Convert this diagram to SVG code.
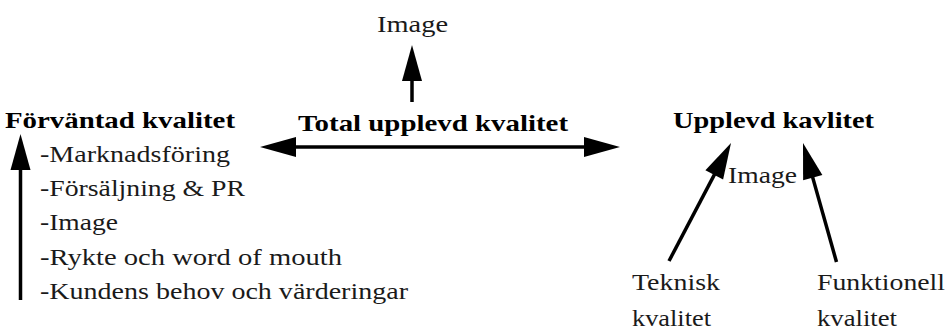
<svg xmlns="http://www.w3.org/2000/svg" width="948" height="332" viewBox="0 0 948 332">
  <style>
    .t { font-family: "Liberation Serif", "Times New Roman", serif; font-size: 24px; fill: #1a1a1a; }
    .b { font-weight: bold; fill: #000; }
    .c { stroke: #000; stroke-width: 3.5; fill: none; }
  </style>
  <defs>
    <marker id="ah" markerUnits="userSpaceOnUse" markerWidth="36" markerHeight="20" refX="26" refY="10" orient="auto-start-reverse" overflow="visible">
      <path d="M0,0 L36,10 L0,20 Z" fill="#000"/>
    </marker>
  </defs>
  <rect width="948" height="332" fill="#fff"/>

  <g id="connectors">
    <line class="c" x1="20.5" y1="300" x2="20.5" y2="144" marker-end="url(#ah)"/>
    <line class="c" x1="412" y1="102" x2="412" y2="55" marker-end="url(#ah)"/>
    <line class="c" x1="270" y1="147" x2="610" y2="147" marker-start="url(#ah)" marker-end="url(#ah)"/>
    <line class="c" x1="669" y1="261" x2="726.35" y2="151.85" marker-end="url(#ah)"/>
    <line class="c" x1="836.5" y1="262" x2="805.7" y2="152.6" marker-end="url(#ah)"/>
  </g>

  <g id="image-top">
    <text class="t" x="377" y="32" textLength="71" lengthAdjust="spacingAndGlyphs">Image</text>
  </g>

  <g id="forvantad">
    <text class="t b" x="5" y="128" textLength="230" lengthAdjust="spacingAndGlyphs">Förväntad kvalitet</text>
    <text class="t" x="40" y="162" textLength="190" lengthAdjust="spacingAndGlyphs">-Marknadsföring</text>
    <text class="t" x="40" y="196" textLength="205" lengthAdjust="spacingAndGlyphs">-Försäljning &amp; PR</text>
    <text class="t" x="40" y="230" textLength="78" lengthAdjust="spacingAndGlyphs">-Image</text>
    <text class="t" x="40" y="265" textLength="302" lengthAdjust="spacingAndGlyphs">-Rykte och word of mouth</text>
    <text class="t" x="40" y="299" textLength="368" lengthAdjust="spacingAndGlyphs">-Kundens behov och värderingar</text>
  </g>

  <g id="total">
    <text class="t b" x="298" y="131" textLength="270" lengthAdjust="spacingAndGlyphs">Total upplevd kvalitet</text>
  </g>

  <g id="upplevd">
    <text class="t b" x="673" y="128" textLength="201" lengthAdjust="spacingAndGlyphs">Upplevd kavlitet</text>
    <text class="t" x="728" y="183" textLength="69" lengthAdjust="spacingAndGlyphs">Image</text>
  </g>

  <g id="teknisk">
    <text class="t" x="632" y="290" textLength="88" lengthAdjust="spacingAndGlyphs">Teknisk</text>
    <text class="t" x="632" y="326" textLength="79" lengthAdjust="spacingAndGlyphs">kvalitet</text>
  </g>

  <g id="funktionell">
    <text class="t" x="817" y="290" textLength="128" lengthAdjust="spacingAndGlyphs">Funktionell</text>
    <text class="t" x="817" y="326" textLength="80" lengthAdjust="spacingAndGlyphs">kvalitet</text>
  </g>
</svg>
